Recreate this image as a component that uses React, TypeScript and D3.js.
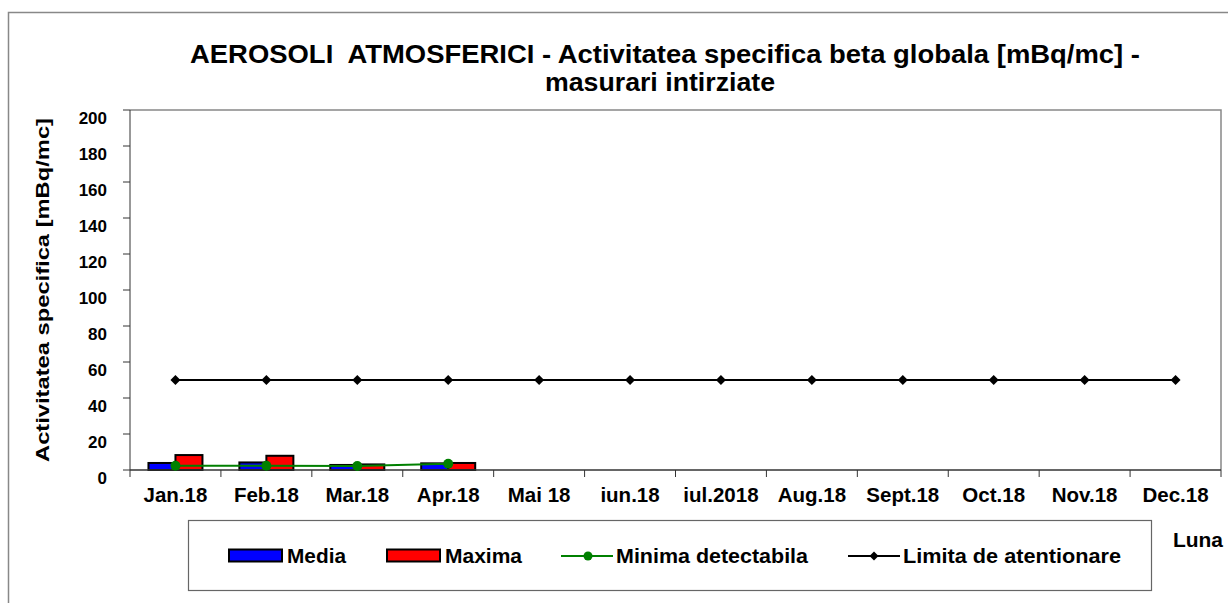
import React from "react";
import * as d3 from "d3";

const months = ["Jan.18", "Feb.18", "Mar.18", "Apr.18", "Mai 18", "iun.18", "iul.2018", "Aug.18", "Sept.18", "Oct.18", "Nov.18", "Dec.18"];
const media = [3.9, 4.2, 2.8, 3.7];
const maxima = [8.3, 7.9, 3.1, 3.9];
const minimaDetectabila = [2.4, 2.4, 2.2, 3.5];
const limita = [50, 50, 50, 50, 50, 50, 50, 50, 50, 50, 50, 50];
const yTicks = [0, 20, 40, 60, 80, 100, 120, 140, 160, 180, 200];

const FONT = "'Liberation Sans', Arial, sans-serif";

export default function App() {
  const W = 1228, H = 603;
  const left = 130, right = 1221, top = 110, bottom = 470;
  const x = d3.scaleBand<string>().domain(months).range([left, right]).padding(0);
  const y = d3.scaleLinear().domain([0, 200]).range([bottom, top]);
  const inner = d3.scaleBand<string>().domain(["media", "maxima"]).range([0, 54]);
  const cx = (m: string) => (x(m) as number) + x.bandwidth() / 2;

  const lineGen = d3.line<number>().x((_, i) => cx(months[i])).y((v) => y(v));

  const diamond = (px: number, py: number, r = 5) =>
    `M${px},${py - r}L${px + r},${py}L${px},${py + r}L${px - r},${py}Z`;

  return (
    <svg width={W} height={H} style={{ position: "absolute", left: 0, top: 0, background: "#fff" }}>
      <rect x={0} y={0} width={W} height={H} fill="#fff" />
      {/* outer border */}
      <path d={`M8.5,${H}V12.5H${W}`} fill="none" stroke="#888" strokeWidth={1.5} />
      {/* title */}
      <text x={665} y={63} textAnchor="middle" fontFamily={FONT} fontWeight="bold" fontSize={26} fill="#000"
        xmlSpace="preserve" style={{ whiteSpace: "pre" }} textLength={950} lengthAdjust="spacingAndGlyphs">
        {"AEROSOLI  ATMOSFERICI - Activitatea specifica beta globala [mBq/mc] -"}
      </text>
      <text x={660} y={91} textAnchor="middle" fontFamily={FONT} fontWeight="bold" fontSize={26} fill="#000"
        textLength={230} lengthAdjust="spacingAndGlyphs">
        masurari intirziate
      </text>
      {/* plot frame top/right */}
      <path d={`M${left},${top}H${right}V${bottom}`} fill="none" stroke="#888" strokeWidth={1.5} />
      {/* y axis */}
      <line x1={left} x2={left} y1={top} y2={bottom} stroke="#333" strokeWidth={1} />
      {yTicks.map((t) => (
        <g key={t}>
          <line x1={left - 7} x2={left} y1={y(t)} y2={y(t)} stroke="#333" />
          <text x={107} y={y(t) + 14} textAnchor="end" fontFamily={FONT} fontWeight="bold" fontSize={17}>
            {t}
          </text>
        </g>
      ))}
      <text
        transform={`translate(49,${290}) rotate(-90)`}
        textAnchor="middle"
        fontFamily={FONT}
        fontWeight="bold"
        fontSize={19}
        textLength={344}
        lengthAdjust="spacingAndGlyphs"
      >
        Activitatea specifica [mBq/mc]
      </text>
      {/* bars */}
      {media.map((v, i) => (
        <rect key={"me" + i} x={cx(months[i]) - 27 + (inner("media") as number)} y={y(v)} width={inner.bandwidth()} height={y(0) - y(v)} fill="#0000ff" stroke="#000" strokeWidth={2} />
      ))}
      {maxima.map((v, i) => (
        <rect key={"mx" + i} x={cx(months[i]) - 27 + (inner("maxima") as number)} y={y(v)} width={inner.bandwidth()} height={y(0) - y(v)} fill="#ff0000" stroke="#000" strokeWidth={2} />
      ))}
      {/* x axis */}
      <line x1={left} x2={right} y1={bottom} y2={bottom} stroke="#333" strokeWidth={1.5} />
      {months.map((m) => (
        <line key={"t" + m} x1={x(m)} x2={x(m)} y1={bottom} y2={bottom + 7} stroke="#333" />
      ))}
      <line x1={right} x2={right} y1={bottom} y2={bottom + 7} stroke="#333" />
      {months.map((m) => (
        <text key={"l" + m} x={cx(m)} y={502} textAnchor="middle" fontFamily={FONT} fontWeight="bold" fontSize={20.5}>
          {m}
        </text>
      ))}
      {/* green line */}
      <path d={lineGen(minimaDetectabila) as string} fill="none" stroke="#008000" strokeWidth={2} />
      {minimaDetectabila.map((v, i) => (
        <circle key={"g" + i} cx={cx(months[i])} cy={y(v)} r={5} fill="#008000" />
      ))}
      {/* black line */}
      <path d={lineGen(limita) as string} fill="none" stroke="#000" strokeWidth={2} />
      {limita.map((v, i) => (
        <path key={"d" + i} d={diamond(cx(months[i]), y(v))} fill="#000" />
      ))}
      {/* legend */}
      <rect x={188.5} y={520.5} width={963} height={70} fill="#fff" stroke="#666" strokeWidth={1.2} />
      <rect x={229} y={549.5} width={53} height={12} fill="#0000ff" stroke="#000" strokeWidth={2} />
      <text x={287} y={563} fontFamily={FONT} fontWeight="bold" fontSize={19.5} textLength={59} lengthAdjust="spacingAndGlyphs">Media</text>
      <rect x={387} y={549.5} width={53} height={12} fill="#ff0000" stroke="#000" strokeWidth={2} />
      <text x={445} y={563} fontFamily={FONT} fontWeight="bold" fontSize={19.5} textLength={77} lengthAdjust="spacingAndGlyphs">Maxima</text>
      <line x1={561} x2={613} y1={556} y2={556} stroke="#008000" strokeWidth={2} />
      <circle cx={588} cy={556} r={4.5} fill="#008000" />
      <text x={616} y={563} fontFamily={FONT} fontWeight="bold" fontSize={19.5} textLength={192} lengthAdjust="spacingAndGlyphs">Minima detectabila</text>
      <line x1={848} x2={900} y1={556} y2={556} stroke="#000" strokeWidth={2} />
      <path d={diamond(874, 556, 4.5)} fill="#000" />
      <text x={903} y={563} fontFamily={FONT} fontWeight="bold" fontSize={19.5} textLength={218} lengthAdjust="spacingAndGlyphs">Limita de atentionare</text>
      <text x={1173} y={547} fontFamily={FONT} fontWeight="bold" fontSize={20} textLength={50} lengthAdjust="spacingAndGlyphs">Luna</text>
    </svg>
  );
}
